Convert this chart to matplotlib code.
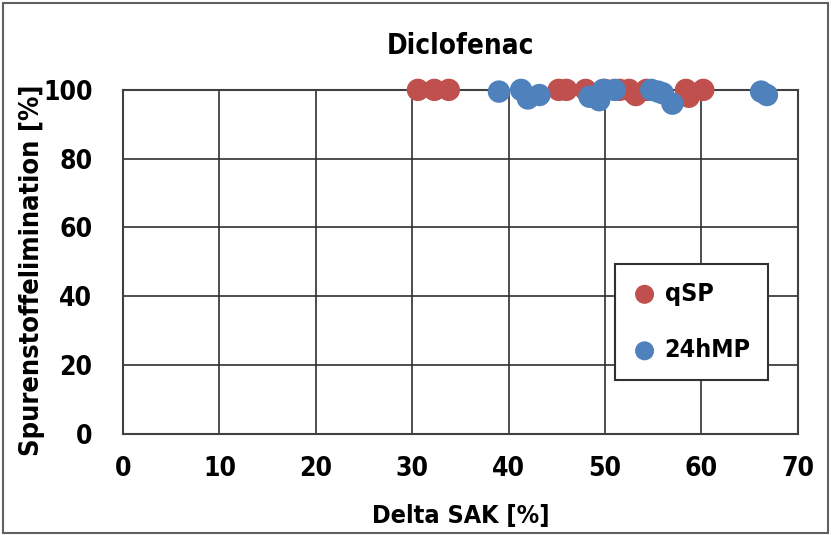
import matplotlib.pyplot as plt
from matplotlib.patches import Rectangle

# data
qsp_x = [30.6, 32.3, 33.8, 45.2, 46.0, 48.0, 50.0, 51.5, 52.5, 53.2, 54.3, 58.4, 58.7, 60.2]
qsp_y = [100, 100, 100, 100, 100, 100, 100, 100, 100, 98.5, 100, 100, 98, 100]
mp_x = [39.0, 41.3, 42.0, 43.2, 48.4, 49.4, 49.8, 51.0, 54.8, 55.5, 56.0, 57.0, 66.2, 66.8]
mp_y = [99.5, 100, 97.5, 98.5, 98, 97, 100, 100, 100, 99.5, 99, 96, 99.5, 98.5]

xticks = [0, 10, 20, 30, 40, 50, 60, 70]
yticks = [0, 20, 40, 60, 80, 100]

plt.rcParams['font.family'] = ['DejaVu Sans']
plt.rcParams['font.stretch'] = 'condensed'
plt.rcParams['font.weight'] = 'bold'

fig = plt.figure(figsize=(8.31, 5.35), dpi=100)
ax = fig.add_axes([0.148, 0.189, 0.812, 0.643])

ax.scatter(qsp_x, qsp_y, s=260, color='#c0504d', label='qSP', zorder=3, clip_on=False, edgecolors='none')
ax.scatter(mp_x, mp_y, s=260, color='#4f81bd', label='24hMP', zorder=3, clip_on=False, edgecolors='none')

ax.set_xlim(0, 70)
ax.set_ylim(0, 100)
ax.set_xticks(xticks)
ax.set_yticks(yticks)
ax.grid(True, color='#303030', linewidth=1.2)
ax.set_axisbelow(True)
for s in ax.spines.values():
    s.set_color('#404040')
    s.set_linewidth(1.5)
ax.tick_params(axis='x', length=0, labelsize=19, pad=16)
ax.tick_params(axis='y', length=0, labelsize=19, pad=22)

ax.set_title('Diclofenac', fontsize=20, fontweight='bold', pad=26)
ax.set_xlabel('Delta SAK [%]', fontsize=18, fontweight='bold', labelpad=16)
ax.set_ylabel('Spurenstoffelimination [%]', fontsize=19.5, fontweight='bold')
ax.yaxis.set_label_coords(-0.116, 0.477)

leg = ax.legend(loc='lower right', bbox_to_anchor=(0.956, 0.157), borderaxespad=0, fontsize=18,
                frameon=True, fancybox=False, edgecolor='#303030', framealpha=1,
                handlelength=1.0, handletextpad=0.3, labelspacing=1.3, borderpad=0.7,
                markerscale=0.85)
leg.get_frame().set_linewidth(1.5)

fig.patches.append(Rectangle((0.004, 0.004), 0.992, 0.99, transform=fig.transFigure,
                             fill=False, edgecolor='#606060', linewidth=1.5))

fig.savefig('out.png', dpi=100)
